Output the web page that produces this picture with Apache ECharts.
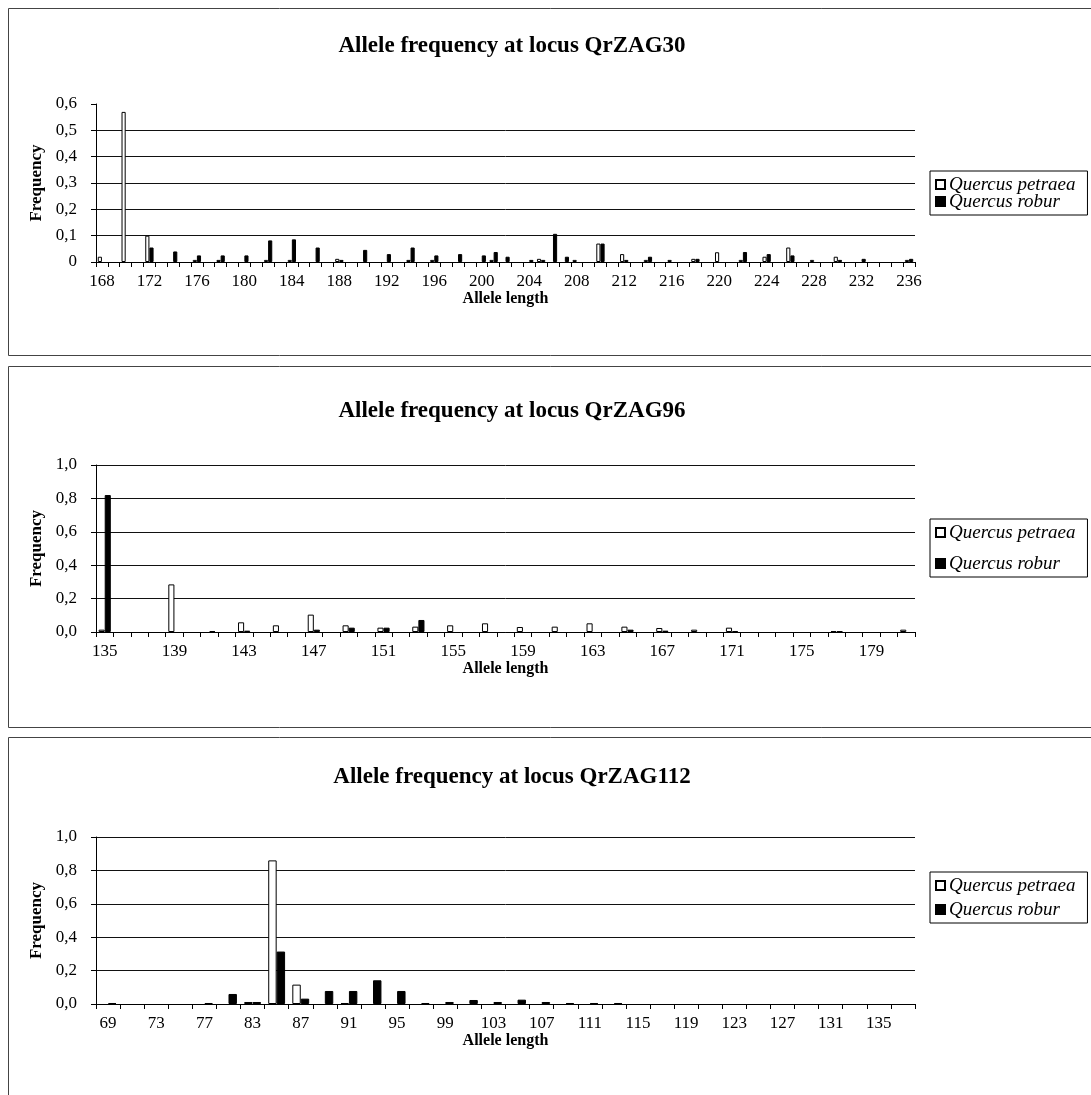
<!DOCTYPE html>
<html>
<head>
<meta charset="utf-8">
<script src="https://cdn.jsdelivr.net/npm/echarts@6/dist/echarts.min.js"></script>
<style>
html,body{margin:0;padding:0;background:#fff;}
#c{width:1091px;height:1095px;}
</style>
</head>
<body>
<div id="c"></div>
<script>
// ---------- DATA ----------
const titles = ['Allele frequency at locus QrZAG30', 'Allele frequency at locus QrZAG96', 'Allele frequency at locus QrZAG112'];
const seriesNames = ['Quercus petraea', 'Quercus robur'];

// Locus QrZAG30
const cats1 = ['168','169','170','171','172','173','174','175','176','177','178','179','180','181','182','183','184','185','186','187','188','189','190','191','192','193','194','195','196','197','198','199','200','201','202','203','204','205','206','207','208','209','210','211','212','213','214','215','216','217','218','219','220','221','222','223','224','225','226','227','228','229','230','231','232','233','234','235','236'];
const petraea1 = [0.02,0,0.57,0,0.1,0,0,0,0.008,0,
  0.008,0,0,0,0.008,0,0.008,0,0,0,
  0.012,0,0,0,0,0,0.008,0,0.008,0,
  0,0,0,0.008,0,0,0,0.012,0,0,
  0.008,0,0.07,0,0.03,0,0.008,0,0.008,0,
  0.012,0,0.037,0,0.008,0,0.02,0,0.055,0,
  0.008,0,0.02,0,0,0,0,0,0.008];
const robur1 = [0,0,0,0,0.055,0,0.04,0,0.025,0,
  0.025,0,0.025,0,0.082,0,0.086,0,0.055,0,
  0.008,0,0.046,0,0.03,0,0.055,0,0.025,0,
  0.03,0,0.025,0.038,0.02,0,0.008,0.008,0.107,0.02,
  0,0,0.07,0,0.008,0,0.02,0,0,0,
  0.012,0,0,0,0.038,0,0.03,0,0.025,0,
  0,0,0.008,0,0.012,0,0,0,0.012];

// Locus QrZAG96
const cats2 = ['135','136','137','138','139','140','141','142','143','144','145','146','147','148','149','150','151','152','153','154','155','156','157','158','159','160','161','162','163','164','165','166','167','168','169','170','171','172','173','174','175','176','177','178','179','180','181'];
const petraea2 = [0.014,0,0,0,0.285,0,0,0,0.058,0,
  0.04,0,0.104,0,0.04,0,0.026,0,0.032,0,
  0.04,0,0.052,0,0.03,0,0.032,0,0.052,0,
  0.032,0,0.024,0,0.014,0,0.026,0,0,0,
  0,0,0.006,0,0,0,0.014];
const robur2 = [0.82,0,0,0,0,0,0.006,0,0.008,0,
  0,0,0.014,0,0.026,0,0.026,0,0.072,0,
  0,0,0,0,0,0,0,0,0,0,
  0.014,0,0.008,0,0,0,0.006,0,0,0,
  0,0,0.004,0,0,0,0];

// Locus QrZAG112
const cats3 = ['69','71','73','75','77','81','83','85','87','89','91','93','95','97','99','101','103','105','107','109','111','113','115','117','119','121','123','125','127','129','131','133','135','137'];
const petraea3 = [0,0,0,0,0,0,0.012,0.86,0.116,0,0.006,0,0,0,0,0,0,0,0,0,0,0,0,0,0,0,0,0,0,0,0,0,0,0];
const robur3 = [0.006,0,0,0,0.006,0.06,0.012,0.314,0.032,0.078,0.078,0.142,0.078,0.006,0.012,0.024,0.012,0.026,0.012,0.006,0.006,0.006,0,0,0,0,0,0,0,0,0,0,0,0];

const yMax = [0.6, 1.0, 1.0];
const yStep = [0.1, 0.2, 0.2];
const xLabelEvery = [3, 3, 1];

// ---------- LAYOUT ----------
const SERIF = '"Liberation Serif", "Times New Roman", serif';
const panels = [
  {box:[8.5, 8.5, 1100, 347], titleTop: 35, grid:{left:96, top:104, width:819, height:158}, legendTop: 171, legendGap: -2, nameGap: 27},
  {box:[8.5, 366.5, 1100, 361], titleTop: 400, grid:{left:96, top:465, width:819, height:167}, legendTop: 519, legendGap: 12, nameGap: 23},
  {box:[8.5, 737.5, 1100, 400], titleTop: 766, grid:{left:96, top:837, width:819, height:167}, legendTop: 872, legendGap: 5, nameGap: 27}
];
const catsAll = [cats1, cats2, cats3];
const pAll = [petraea1, petraea2, petraea3];
const rAll = [robur1, robur2, robur3];
const hideZero = arr => arr.map(v => (v === 0 ? null : v));

const option = {
  animation: false,
  backgroundColor: '#fff',
  title: [], grid: [], xAxis: [], yAxis: [], series: [], legend: [],
  graphic: []
};

panels.forEach((pn, i) => {
  option.graphic.push({
    type: 'rect', silent: true, z: -1,
    shape: {x: pn.box[0], y: pn.box[1], width: pn.box[2], height: pn.box[3]},
    style: {fill: 'none', stroke: '#444', lineWidth: 1}
  });
  option.title.push({
    text: titles[i], left: 512, top: pn.titleTop, textAlign: 'center', padding: 0,
    textStyle: {fontFamily: SERIF, fontWeight: 'bold', fontSize: 23, color: '#000'}
  });
  option.grid.push(Object.assign({containLabel: false}, pn.grid));
  option.xAxis.push({
    type: 'category', gridIndex: i, data: catsAll[i],
    name: 'Allele length', nameLocation: 'middle', nameGap: pn.nameGap,
    nameTextStyle: {fontFamily: SERIF, fontWeight: 'bold', fontSize: 16, color: '#000'},
    axisLine: {lineStyle: {color: '#000', width: 1}},
    axisTick: {show: true, interval: 0, length: 5, lineStyle: {color: '#000'}},
    axisLabel: {interval: xLabelEvery[i], fontFamily: SERIF, fontSize: 17, color: '#000', margin: 11},
    splitLine: {show: false}
  });
  option.yAxis.push({
    type: 'value', gridIndex: i, min: 0, max: yMax[i], interval: yStep[i],
    name: 'Frequency', nameLocation: 'middle', nameGap: 45, nameRotate: 90,
    nameTextStyle: {fontFamily: SERIF, fontWeight: 'bold', fontSize: 17, color: '#000'},
    axisLine: {show: true, lineStyle: {color: '#000', width: 1}},
    axisTick: {show: true, length: 5, lineStyle: {color: '#000'}},
    axisLabel: {
      fontFamily: SERIF, fontSize: 17, color: '#000', margin: 19,
      formatter: v => (i === 0 && v === 0) ? '0' : v.toFixed(1).replace('.', ',')
    },
    splitLine: {show: true, showMaxLine: i !== 0, lineStyle: {color: '#111', width: 1}}
  });
  option.series.push({
    name: seriesNames[0], type: 'bar', xAxisIndex: i, yAxisIndex: i,
    data: hideZero(pAll[i]), barGap: '0%', barCategoryGap: '30%',
    itemStyle: {color: '#fff', borderColor: '#000', borderWidth: 1}
  });
  option.series.push({
    name: seriesNames[1], type: 'bar', xAxisIndex: i, yAxisIndex: i,
    data: hideZero(rAll[i]), barGap: '0%', barCategoryGap: '30%',
    itemStyle: {color: '#000', borderColor: '#000', borderWidth: 1}
  });
  option.legend.push({
    data: seriesNames, orient: 'vertical', left: 930, top: pn.legendTop,
    itemWidth: 9, itemHeight: 9, itemGap: pn.legendGap, icon: 'rect',
    padding: [4, 12, 4, 5], borderColor: '#000', borderWidth: 1,
    selectedMode: false,
    textStyle: {fontFamily: SERIF, fontStyle: 'italic', fontSize: 19, color: '#000', padding: [0,0,0,-1]}
  });
});

const chart = echarts.init(document.getElementById('c'), null, {renderer: 'canvas'});
chart.setOption(option);
</script>
</body>
</html>
